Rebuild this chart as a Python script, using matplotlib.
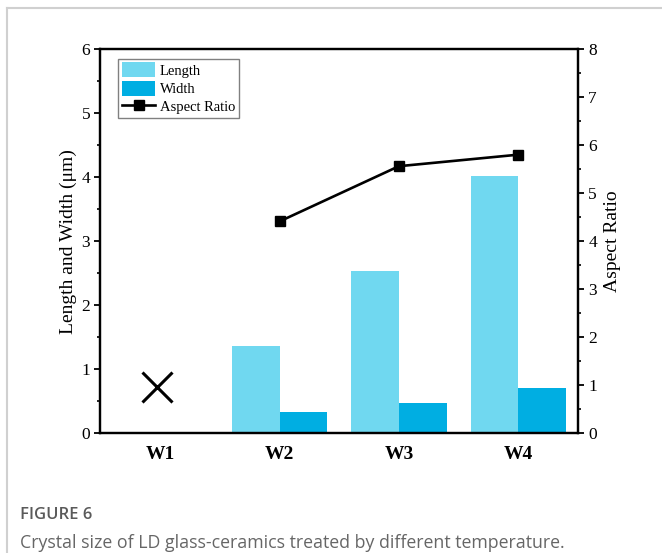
import matplotlib as mpl
import matplotlib.pyplot as plt
from matplotlib.lines import Line2D
from matplotlib.ticker import MultipleLocator
import numpy as np

mpl.rcParams['font.family'] = ['Liberation Serif', 'DejaVu Serif']

# data
samples = ['W1', 'W2', 'W3', 'W4']
length = [np.nan, 1.36, 2.54, 4.01]   # um
width = [np.nan, 0.33, 0.47, 0.71]    # um
aspect = [np.nan, 4.41, 5.56, 5.80]
# W1: no crystals, marked with a cross
cross_x = [-0.03]
cross_y = [0.72]

c_len = '#70D8F0'
c_wid = '#00AEE2'

fig = plt.figure(figsize=(6.62, 5.53), dpi=100)
ax = fig.add_axes([0.1518, 0.2165, 0.7212, 0.6949])
ax2 = ax.twinx()

x = np.arange(len(samples))
bw = 0.4
b1 = ax.bar(x - bw/2, length, bw, color=c_len, label='Length')
b2 = ax.bar(x + bw/2, width, bw, color=c_wid, label='Width')
ax.plot(cross_x, cross_y, marker='x', color='black', markersize=21,
        markeredgewidth=2.2, linestyle='none')

ln, = ax2.plot(x, aspect, color='black', lw=1.9, marker='s', markersize=6.5,
               label='Aspect Ratio')

ax.set_xlim(-0.5, 3.5)
ax.set_ylim(0, 6)
ax2.set_ylim(0, 8)
ax.set_xticks(x)
ax.set_xticklabels(samples, fontweight='bold', fontsize=14)
ax.tick_params(axis='x', length=0, pad=9)

ax.yaxis.set_major_locator(MultipleLocator(1))
ax.yaxis.set_minor_locator(MultipleLocator(0.5))
ax2.yaxis.set_major_locator(MultipleLocator(1))
ax2.yaxis.set_minor_locator(MultipleLocator(0.5))
for a in (ax, ax2):
    a.tick_params(axis='y', which='major', direction='out', length=4.5,
                  width=1.3, labelsize=12.5, pad=3)
    a.tick_params(axis='y', which='minor', direction='out', length=2.5,
                  width=1.2)
    for s in a.spines.values():
        s.set_linewidth(1.6)

ax.set_ylabel('Length and Width (μm)', fontsize=14, labelpad=3)
ax2.set_ylabel('Aspect Ratio', fontsize=14, labelpad=5)

leg = ax2.legend([b1, b2, ln], ['Length', 'Width', 'Aspect Ratio'],
                 loc='upper left', bbox_to_anchor=(0.037, 0.975),
                 fontsize=10.5, fancybox=False, framealpha=1,
                 edgecolor='#808080', handlelength=2.3, handleheight=1.2,
                 labelspacing=0.2, borderpad=0.25, handletextpad=0.3,
                 borderaxespad=0)
leg.get_frame().set_linewidth(1.0)

# card border and caption
fig.add_artist(Line2D([7/662, 1], [1 - 8/553, 1 - 8/553], color='#d0d0d0',
                      lw=1.5, transform=fig.transFigure))
fig.add_artist(Line2D([7/662, 7/662], [0, 1 - 8/553], color='#d0d0d0',
                      lw=1.5, transform=fig.transFigure))
fig.text(20/662, 1 - 515/553, 'FIGURE 6', family='Open Sans',
         fontweight='semibold', fontsize=12, color='#5a5a5a', va='center')
fig.text(20/662, 1 - 543/553,
         'Crystal size of LD glass-ceramics treated by different temperature.',
         family='Open Sans', fontsize=12.8, color='#666666', va='center')

fig.savefig('out.png', dpi=100)
